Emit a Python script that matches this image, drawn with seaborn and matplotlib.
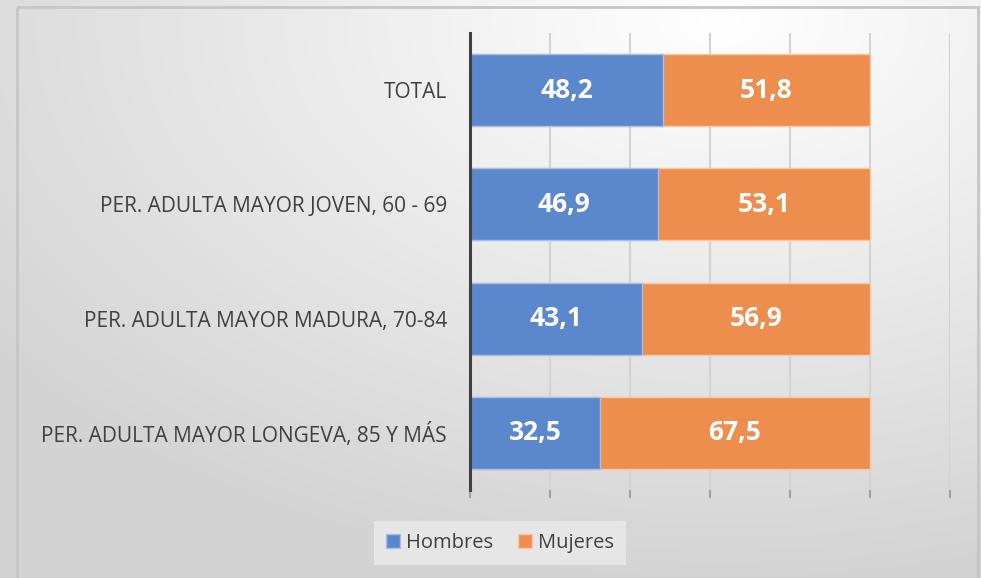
import numpy as np
import pandas as pd
import matplotlib
matplotlib.use("Agg")
import matplotlib.pyplot as plt
import seaborn as sns
from matplotlib.patches import Rectangle, Patch

categorias = ["TOTAL",
              "PER. ADULTA MAYOR JOVEN, 60 - 69",
              "PER. ADULTA MAYOR MADURA, 70-84",
              "PER. ADULTA MAYOR LONGEVA, 85 Y MÁS"]
hombres = [48.2, 46.9, 43.1, 32.5]
mujeres = [51.8, 53.1, 56.9, 67.5]
series = ["Hombres", "Mujeres"]

AZUL = "#5B87CC"
NARANJA = "#EE8E4E"
TXT = "#404040"
FONT = "Open Sans"

sns.set_theme(style="white")
plt.rcParams["font.family"] = [FONT, "DejaVu Sans"]

W, H = 981, 578
fig = plt.figure(figsize=(W / 100, H / 100), dpi=100)

# background gradient
bg = fig.add_axes([0, 0, 1, 1], zorder=-10)
yy, xx = np.mgrid[0:H, 0:W]
d = np.sqrt(((xx - 720) / 900.0) ** 2 + ((yy - 20) / 560.0) ** 2)
d = np.clip(d, 0, 1)
val = 1.0 - 0.17 * d
img = np.dstack([val, val, val])
bg.imshow(img, extent=[0, W, H, 0], aspect="auto", interpolation="bilinear")
bg.add_patch(Rectangle((17, 7), 961, 600, fill=False, edgecolor="#c6c6c6", lw=2))
bg.set_xlim(0, W)
bg.set_ylim(H, 0)
bg.axis("off")

ax = fig.add_axes([470 / W, 1 - 490 / H, 480 / W, 457 / H])
ax.patch.set_alpha(0)

df = pd.DataFrame({"cat": categorias, "Hombres": hombres, "Mujeres": mujeres})
df["total"] = df["Hombres"] + df["Mujeres"]

sns.barplot(data=df, x="total", y="cat", color=NARANJA, saturation=1,
            width=0.63, edgecolor="#f6c9a8", linewidth=1, ax=ax, zorder=3)
sns.barplot(data=df, x="Hombres", y="cat", color=AZUL, saturation=1,
            width=0.63, edgecolor="#a9bfe6", linewidth=1, ax=ax, zorder=4)

for i, (h, m) in enumerate(zip(hombres, mujeres)):
    ax.text(h / 2, i, f"{h:.1f}".replace(".", ","), ha="center", va="center",
            color="white", fontsize=19, fontweight="bold", zorder=6)
    ax.text(h + m / 2, i, f"{m:.1f}".replace(".", ","), ha="center", va="center",
            color="white", fontsize=19, fontweight="bold", zorder=6)

ax.set_xlim(0, 120)
ax.set_ylim(3.5, -0.5)
ax.set_xticks(np.arange(0, 121, 20))
ax.set_xticklabels([])
ax.grid(axis="x", color="#d3d3d3", lw=1.5, zorder=0)
ax.grid(axis="y", visible=False)
ax.tick_params(axis="x", length=6, width=1.5, color="#a0a0a0", bottom=True)
ax.tick_params(axis="y", length=0, pad=16.5, labelsize=15, labelcolor=TXT)
ax.set_xlabel("")
ax.set_ylabel("")
for s in ["top", "right", "bottom"]:
    ax.spines[s].set_visible(False)
ax.spines["left"].set_color("#404040")
ax.spines["left"].set_linewidth(2.2)
ax.spines["left"].set_zorder(7)

handles = [Patch(facecolor=AZUL, edgecolor="#a9bfe6", label=series[0]),
           Patch(facecolor=NARANJA, edgecolor="#f6c9a8", label=series[1])]
leg = fig.legend(handles=handles, loc="center", bbox_to_anchor=(500 / W, 1 - 543 / H),
                 ncol=2, frameon=True, fontsize=14.5, handlelength=0.7, handleheight=0.7,
                 handletextpad=0.3, columnspacing=1.2, borderpad=0.6, fancybox=False)
leg.get_frame().set_facecolor("#ebebeb")
leg.get_frame().set_edgecolor("none")
for t in leg.get_texts():
    t.set_color(TXT)

fig.savefig("out.png", dpi=100)
